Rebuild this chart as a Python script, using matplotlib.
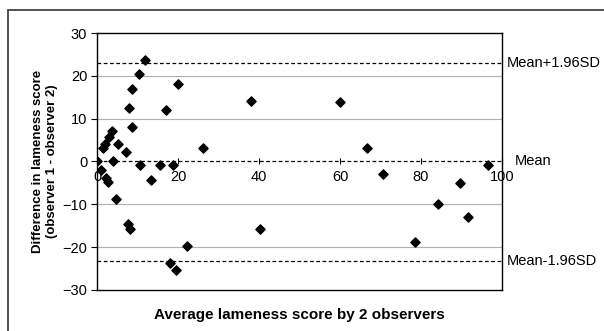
import matplotlib
matplotlib.use('Agg')
import matplotlib.pyplot as plt
from matplotlib.patches import Rectangle

plt.rcParams['font.family'] = ['Liberation Sans', 'DejaVu Sans']

# average score (x) and difference obs1 - obs2 (y)
avgScore = [0.0, 11.9, 10.4, 8.6, 7.9, 8.6, 3.6, 2.9, 2.0, 1.6, 5.1, 7.2, 4.0,
            17.0, 20.1, 26.1, 38.0, 10.6, 15.6, 18.7, 1.1, 2.1, 2.8, 4.7, 13.3,
            7.6, 8.1, 18.0, 19.4, 22.1, 40.2, 60.1, 66.6, 70.7, 96.6, 89.6,
            84.1, 91.7, 78.5]
diffScore = [0.0, 23.6, 20.5, 17.0, 12.6, 8.1, 7.2, 5.7, 4.2, 3.2, 4.2, 2.2, 0.2,
             12.1, 18.1, 3.2, 14.1, -0.8, -0.8, -0.8, -1.9, -3.8, -4.8, -8.8, -4.3,
             -14.7, -15.8, -23.8, -25.3, -19.8, -15.8, 14.0, 3.1, -2.9, -0.9, -5.0,
             -9.9, -12.9, -18.9]

meanDiff = 0.0
upperLimit = 22.9
lowerLimit = -23.3
limitLabels = ['Mean+1.96SD', 'Mean', 'Mean-1.96SD']
xTicks = [0, 20, 40, 60, 80, 100]
yTicks = [-30, -20, -10, 0, 10, 20, 30]


def drawChart():
    fig = plt.figure(figsize=(6.04, 3.31), dpi=100)
    ax = fig.add_axes([0.1606, 0.1239, 0.6705, 0.7764])

    # outer frame of the figure
    fig.patches.append(Rectangle((8 / 604, -0.1), 1.2, 1 - 10 / 331 + 0.1,
                                 transform=fig.transFigure, fill=False,
                                 edgecolor='#333333', linewidth=1.2))

    for y in [-20, -10, 10, 20]:
        ax.axhline(y, color='#b0b0b0', linewidth=0.8, zorder=1)
    for y in [upperLimit, meanDiff, lowerLimit]:
        ax.axhline(y, color='black', linewidth=0.9, linestyle=(0, (3, 2)), zorder=2)

    ax.scatter(avgScore, diffScore, marker='D', s=22, color='black', zorder=3)

    ax.set_xlim(0, 100)
    ax.set_ylim(-30, 30)
    ax.set_yticks(yTicks)
    ax.tick_params(axis='y', direction='out', length=4, labelsize=10.5, pad=3)
    ax.set_xticks([])
    for s in ax.spines.values():
        s.set_linewidth(1.0)

    # x axis crossing at zero, labels under the mean line
    xAxis = ax.secondary_xaxis(0.5)
    xAxis.set_xticks(xTicks)
    xAxis.xaxis.set_ticks_position('bottom')
    xAxis.tick_params(direction='inout', length=4, labelsize=10.5, pad=4,
                      labelbottom=True, labeltop=False)
    for s in xAxis.spines.values():
        s.set_visible(False)

    ax.set_ylabel('Difference in lameness score\n(observer 1 - observer 2)',
                  fontsize=9.5, fontweight='bold', labelpad=3)
    ax.set_xlabel('Average lameness score by 2 observers', fontsize=11,
                  fontweight='bold', labelpad=13)

    for label, y, dx in zip(limitLabels, [upperLimit, meanDiff, lowerLimit], [5, 13, 5]):
        ax.annotate(label, xy=(1, y), xycoords=('axes fraction', 'data'),
                    xytext=(dx, 0), textcoords='offset pixels',
                    va='center', ha='left', fontsize=10.5, annotation_clip=False)

    fig.savefig('out.png', dpi=100)


if __name__ == '__main__':
    drawChart()
